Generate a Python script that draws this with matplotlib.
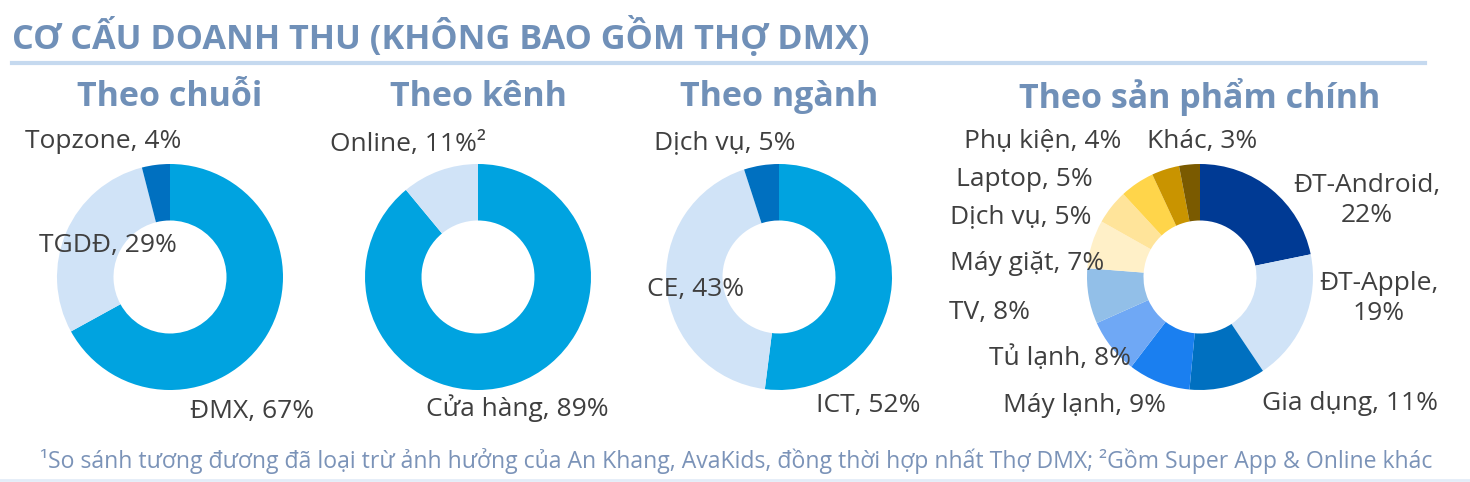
import matplotlib.pyplot as plt

plt.rcParams['font.family'] = ['Open Sans', 'DejaVu Sans']

# data
chain_labels = ['ĐMX', 'TGDĐ', 'Topzone']
chain_values = [67, 29, 4]

channel_labels = ['Cửa hàng', 'Online']
channel_values = [89, 11]
channel_suffix = ['', '²']

sector_labels = ['ICT', 'CE', 'Dịch vụ']
sector_values = [52, 43, 5]

product_labels = ['ĐT-Android', 'ĐT-Apple', 'Gia dụng', 'Máy lạnh', 'Tủ lạnh', 'TV',
                  'Máy giặt', 'Dịch vụ', 'Laptop', 'Phụ kiện', 'Khác']
product_values = [22, 19, 11, 9, 8, 8, 7, 5, 5, 4, 3]

# styles
c_main = '#00a3e0'
c_light = '#d0e3f7'
c_dark = '#0070c0'
chain_colors = [c_main, c_light, c_dark]
channel_colors = [c_main, c_light]
sector_colors = [c_main, c_light, c_dark]
product_colors = ['#003a94', '#d0e3f7', '#0070c0', '#1a7ff0', '#6fa8f5', '#92bfe8',
                  '#fff0c8', '#ffe49a', '#ffd54a', '#c99400', '#7a5a00']

title_color = '#7090b8'
text_color = '#3f3f3f'

W, H = 1470, 482
fig = plt.figure(figsize=(W / 100, H / 100), dpi=100)

R = 113  # outer radius in px


def donut(cx, cy, values, colors, title, labels, label_pos):
    ax = fig.add_axes([(cx - R) / W, (H - cy - R) / H, 2 * R / W, 2 * R / H])
    ax.pie(values, colors=colors, startangle=90, counterclock=False, radius=1,
           wedgeprops=dict(width=0.5, edgecolor='none'))
    ax.set_xlim(-1, 1)
    ax.set_ylim(-1, 1)
    ax.set_aspect('equal')
    ax.axis('off')
    ax.text(0, 1.59, title, ha='center', va='center', fontsize=24.5, fontweight='bold',
            color=title_color, clip_on=False)
    for lab, (x, y) in zip(labels, label_pos):
        ax.text(x, y, lab, ha='center', va='center', fontsize=19, color=text_color,
                clip_on=False, linespacing=1.25)
    return ax


donut(170, 277, chain_values, chain_colors, 'Theo chuỗi',
      [f'{l}, {v}%' for l, v in zip(chain_labels, chain_values)],
      [(0.73, -1.19), (-0.55, 0.28), (-0.59, 1.20)])

donut(478, 277, channel_values, channel_colors, 'Theo kênh',
      [f'{l}, {v}%{s}' for l, v, s in zip(channel_labels, channel_values, channel_suffix)],
      [(0.35, -1.16), (-0.62, 1.17)])

donut(779, 277, sector_values, sector_colors, 'Theo ngành',
      [f'{l}, {v}%' for l, v in zip(sector_labels, sector_values)],
      [(0.79, -1.14), (-0.74, -0.11), (-0.48, 1.19)])

prod_text = []
for l, v in zip(product_labels, product_values):
    if l.startswith('ĐT'):
        prod_text.append(f'{l},\n{v}%')
    else:
        prod_text.append(f'{l}, {v}%')
donut(1200, 277, product_values, product_colors, 'Theo sản phẩm chính', prod_text,
      [(1.48, 0.68), (1.58, -0.19), (1.33, -1.12), (-1.02, -1.14), (-1.24, -0.72),
       (-1.86, -0.31), (-1.53, 0.12), (-1.59, 0.53), (-1.55, 0.86), (-1.39, 1.20),
       (0.02, 1.20)])

# header and footer
fig.text(12 / W, 1 - 37 / H, 'CƠ CẤU DOANH THU (KHÔNG BAO GỒM THỢ DMX)', ha='left',
         va='center', fontsize=24.7, fontweight='bold', color=title_color)
fig.add_artist(plt.Line2D([12 / W, 1425 / W], [1 - 63 / H, 1 - 63 / H], color='#c5d9ef',
                          lw=3, transform=fig.transFigure))
fig.add_artist(plt.Line2D([0, 1], [1 - 480 / H, 1 - 480 / H], color='#e3ecf8',
                          lw=2, transform=fig.transFigure))
fig.text(1432 / W, 1 - 461 / H,
         '¹So sánh tương đương đã loại trừ ảnh hưởng của An Khang, AvaKids, đồng thời hợp nhất '
         'Thợ DMX; ²Gồm Super App & Online khác',
         ha='right', va='center', fontsize=16.6, color='#7b93b8')

fig.savefig('out.png', dpi=100)
